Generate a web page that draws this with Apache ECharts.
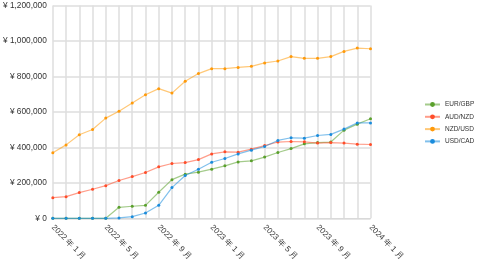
<!DOCTYPE html>
<html><head><meta charset="utf-8">
<script src="https://cdn.jsdelivr.net/npm/echarts@6/dist/echarts.min.js"></script>
<style>html,body{margin:0;padding:0;background:#fff}#c{width:480px;height:263px}</style>
</head><body><div id="c"></div>
<script>
const months = ["2022-01","2022-02","2022-03","2022-04","2022-05","2022-06","2022-07","2022-08","2022-09","2022-10","2022-11","2022-12","2023-01","2023-02","2023-03","2023-04","2023-05","2023-06","2023-07","2023-08","2023-09","2023-10","2023-11","2023-12","2024-01"];
const eurGbp = [0,0,0,0,0,62000,68000,73000,147000,218000,249000,260000,277000,296000,318000,324000,345000,371000,393000,420000,427000,430000,497000,531000,561000];
const audNzd = [116000,122000,145000,164000,184000,213000,235000,258000,290000,309000,314000,331000,363000,375000,373000,390000,410000,430000,433000,431000,424000,427000,424000,418000,416000];
const nzdUsd = [370000,414000,471000,501000,565000,604000,650000,697000,731000,706000,773000,816000,844000,844000,851000,857000,876000,887000,912000,902000,902000,912000,941000,960000,956000];
const usdCad = [0,0,0,0,0,2000,9000,30000,73000,173000,241000,277000,316000,337000,363000,384000,405000,439000,454000,452000,467000,473000,503000,538000,538000];
const seriesNames = ["EUR/GBP","AUD/NZD","NZD/USD","USD/CAD"];
const yTicks = {min:0, max:1200000, interval:200000};

const colors = ["#5aa02c","#ff4d2a","#ff9a0a","#1a8cdc"];
const font = '"Liberation Sans", Arial, sans-serif';
function fmtX(v){ const [y,m]=v.split("-"); return y+" 年 "+parseInt(m,10)+" 月"; }
function fmtY(v){ return "¥ "+v.toLocaleString("en-US"); }
const dataSets=[eurGbp,audNzd,nzdUsd,usdCad];
const chart = echarts.init(document.getElementById('c'), null, {renderer:'canvas'});
chart.setOption({
  animation:false,
  color:colors,
  grid:{left:50,right:109.5,top:5.5,bottom:44.7,containLabel:false},
  legend:{orient:'vertical',left:424,top:101,padding:0,itemWidth:15,itemHeight:6,itemGap:5.3,
    textStyle:{fontFamily:font,fontSize:6.5,color:'#333'},data:seriesNames},
  xAxis:{type:'category',data:months,boundaryGap:false,
    axisLine:{lineStyle:{color:'#d9d9d9',width:1}},axisTick:{show:false},
    axisLabel:{interval:3,rotate:-45,fontFamily:font,fontSize:8,color:'#333',margin:8,formatter:fmtX},
    splitLine:{show:true,interval:0,lineStyle:{color:'#dedede',width:1.5}}},
  yAxis:{type:'value',min:yTicks.min,max:yTicks.max,interval:yTicks.interval,
    axisLine:{show:false},axisTick:{show:false},
    axisLabel:{fontFamily:font,fontSize:8.3,color:'#333',margin:6,formatter:fmtY},
    splitLine:{lineStyle:{color:'#dedede',width:1.5}}},
  series:seriesNames.map((n,i)=>({name:n,type:'line',data:dataSets[i],symbol:'circle',symbolSize:3,showSymbol:true,
    lineStyle:{width:1.2,opacity:0.55,color:colors[i]},itemStyle:{color:colors[i]}}))
});
</script></body></html>
